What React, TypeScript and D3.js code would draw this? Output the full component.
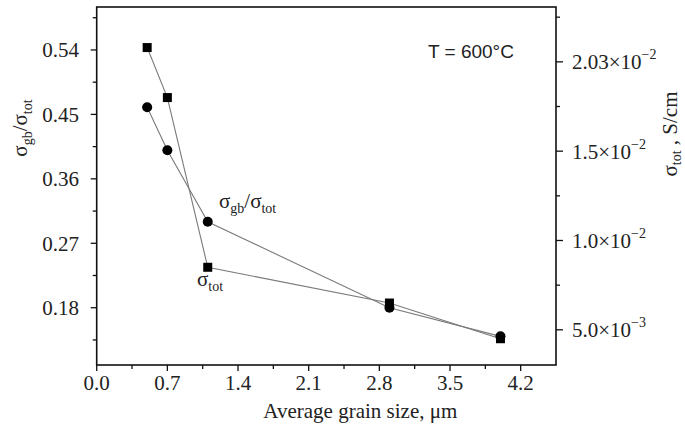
import React from "react";
import * as d3 from "d3";

const grainSize = [0.5, 0.7, 1.1, 2.9, 4.0];
const ratioGbTot = [0.46, 0.4, 0.3, 0.18, 0.14];
const sigmaTot = [0.0208, 0.018, 0.0085, 0.0065, 0.0045];

const xTicks = [0, 0.7, 1.4, 2.1, 2.8, 3.5, 4.2];
const xMinor = [0.35, 1.05, 1.75, 2.45, 3.15, 3.85];
const leftTicks = [0.18, 0.27, 0.36, 0.45, 0.54];
const leftMinor = [0.135, 0.225, 0.315, 0.405, 0.495, 0.585];
const rightTicks = [0.005, 0.01, 0.015, 0.02];
const rightMantissa = ["5.0", "1.0", "1.5", "2.03"];
const rightExponent = ["\u22123", "\u22122", "\u22122", "\u22122"];
const rightMinor = [0.0075, 0.0125, 0.0175, 0.0225];

const W = 685;
const H = 426;
const L = 96.7, R = 556, T = 7, B = 365;
const serif = "'Liberation Serif', 'Times New Roman', serif";
const sans = "'Liberation Sans', Arial, sans-serif";
const txt = "#222";

export default function App() {
  const x = d3.scaleLinear().domain([0, 4.55]).range([L, R]);
  const yL = d3.scaleLinear().domain([0.1, 0.6]).range([B, T]);
  const yR = d3.scaleLinear().domain([0.00303, 0.02307]).range([B, T]);

  const lineL = d3.line<number>().x((_, i) => x(grainSize[i])).y((d) => yL(d));
  const lineR = d3.line<number>().x((_, i) => x(grainSize[i])).y((d) => yR(d));

  const fs = 21;
  const sub = 14;

  return (
    <svg width={W} height={H} style={{ position: "absolute", left: 0, top: 0, background: "#fff" }}>
      <rect x={0} y={0} width={W} height={H} fill="#fff" />
      {/* data lines */}
      <path d={lineL(ratioGbTot) || ""} fill="none" stroke="#7a7a7a" strokeWidth={1.1} />
      <path d={lineR(sigmaTot) || ""} fill="none" stroke="#7a7a7a" strokeWidth={1.1} />
      {ratioGbTot.map((d, i) => (
        <circle key={"c" + i} cx={x(grainSize[i])} cy={yL(d)} r={5} fill="#000" />
      ))}
      {sigmaTot.map((d, i) => (
        <rect key={"s" + i} x={x(grainSize[i]) - 4.5} y={yR(d) - 4.5} width={9} height={9} fill="#000" />
      ))}

      {/* frame */}
      <rect x={L} y={T} width={R - L} height={B - T} fill="none" stroke="#111" strokeWidth={1.6} />

      {/* x ticks */}
      {xTicks.map((t) => (
        <g key={"x" + t}>
          <line x1={x(t)} x2={x(t)} y1={B} y2={B + 6} stroke="#111" strokeWidth={1.3} />
          <text x={x(t)} y={390} textAnchor="middle" fontFamily={serif} fontSize={fs} fill={txt}>
            {t.toFixed(1)}
          </text>
        </g>
      ))}
      {xMinor.map((t) => (
        <line key={"xm" + t} x1={x(t)} x2={x(t)} y1={B} y2={B + 4} stroke="#111" strokeWidth={1.3} />
      ))}
      <text x={(L + R) / 2 + 34} y={418} textAnchor="middle" fontFamily={serif} fontSize={fs} fill={txt}>
        Average grain size, μm
      </text>

      {/* left ticks */}
      {leftTicks.map((t) => (
        <g key={"l" + t}>
          <line x1={L - 6} x2={L} y1={yL(t)} y2={yL(t)} stroke="#111" strokeWidth={1.3} />
          <text x={79} y={yL(t) + 7.5} textAnchor="end" fontFamily={serif} fontSize={fs} fill={txt}>
            {t.toFixed(2)}
          </text>
        </g>
      ))}
      {leftMinor.map((t) => (
        <line key={"lm" + t} x1={L - 4} x2={L} y1={yL(t)} y2={yL(t)} stroke="#111" strokeWidth={1.3} />
      ))}
      <text transform="translate(27,128) rotate(-90)" textAnchor="middle" fontFamily={serif} fontSize={fs} fill={txt}>
        σ<tspan fontSize={sub} dy={5}>gb</tspan>
        <tspan dy={-5}>/σ</tspan>
        <tspan fontSize={sub} dy={5}>tot</tspan>
      </text>

      {/* right ticks */}
      {rightTicks.map((t, i) => (
        <g key={"r" + t}>
          <line x1={R} x2={R + 7} y1={yR(t)} y2={yR(t)} stroke="#111" strokeWidth={1.3} />
          <text x={572} y={yR(t) + 7.5} fontFamily={serif} fontSize={fs} fill={txt}>
            {rightMantissa[i]}×10
            <tspan fontSize={sub} dy={-10}>{rightExponent[i]}</tspan>
          </text>
        </g>
      ))}
      {rightMinor.map((t) => (
        <line key={"rm" + t} x1={R} x2={R + 4} y1={yR(t)} y2={yR(t)} stroke="#111" strokeWidth={1.3} />
      ))}
      <text transform="translate(677,134) rotate(-90)" textAnchor="middle" fontFamily={serif} fontSize={fs} fill={txt}>
        σ<tspan fontSize={sub} dy={4}>tot</tspan>
        <tspan dy={-4}> , S/cm</tspan>
      </text>

      {/* annotations */}
      <text x={428} y={58} fontFamily={sans} fontSize={19} fill={txt}>
        T = 600°C
      </text>
      <text x={219} y={208} fontFamily={serif} fontSize={fs} fill={txt}>
        σ<tspan fontSize={sub} dy={5}>gb</tspan>
        <tspan dy={-5}>/σ</tspan>
        <tspan fontSize={sub} dy={5}>tot</tspan>
      </text>
      <text x={197} y={286} fontFamily={serif} fontSize={fs} fill={txt}>
        σ<tspan fontSize={sub} dy={5}>tot</tspan>
      </text>
    </svg>
  );
}
